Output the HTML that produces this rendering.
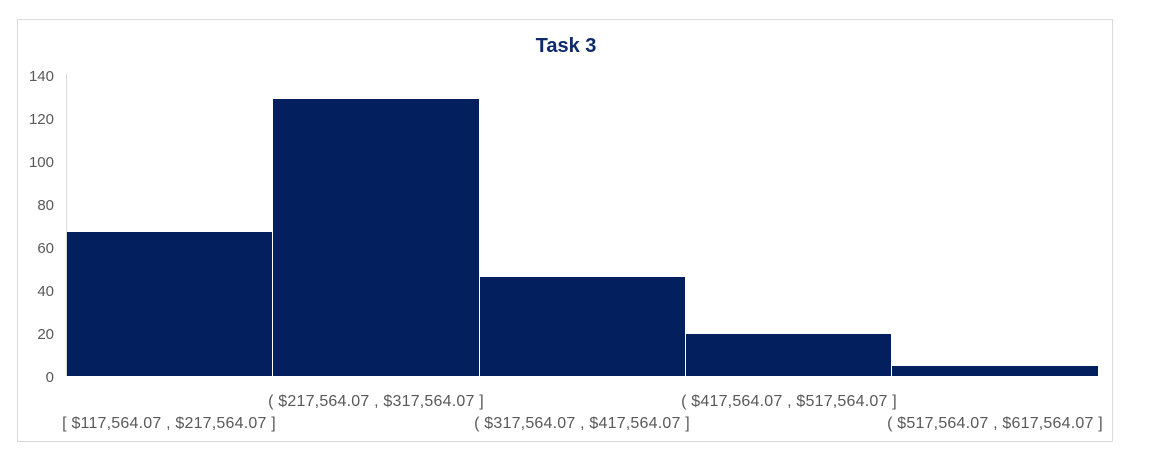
<!DOCTYPE html>
<html><head><meta charset="utf-8"><style>
html,body{margin:0;padding:0;background:#fff;}
svg{display:block;font-family:"Liberation Sans",Arial,sans-serif;}
</style></head><body>
<svg width="1170" height="472" viewBox="0 0 1170 472">
<rect x="17.5" y="19.5" width="1095" height="422" fill="#fff" stroke="#d9d9d9" stroke-width="1"/>
<text x="566" y="52" text-anchor="middle" font-size="20" font-weight="bold" fill="#0d2a6b">Task 3</text>
<g font-size="15" fill="#595959" text-anchor="end">
<text x="54" y="81">140</text>
<text x="54" y="124">120</text>
<text x="54" y="167">100</text>
<text x="54" y="210">80</text>
<text x="54" y="253">60</text>
<text x="54" y="296">40</text>
<text x="54" y="339">20</text>
<text x="54" y="382">0</text>
</g>
<line x1="66.5" y1="74" x2="66.5" y2="376" stroke="#d9d9d9"/>
<g fill="#031f5e">
<rect x="67" y="232" width="205" height="144"/>
<rect x="273" y="99" width="206" height="277"/>
<rect x="480" y="277" width="205" height="99"/>
<rect x="686" y="334" width="205" height="42"/>
<rect x="892" y="366" width="206" height="10"/>
</g>
<g font-size="16" fill="#595959" text-anchor="middle" letter-spacing="0.2">
<text x="169" y="428">[ $117,564.07 ,  $217,564.07 ]</text>
<text x="376" y="406">( $217,564.07 ,  $317,564.07 ]</text>
<text x="582" y="428">( $317,564.07 ,  $417,564.07 ]</text>
<text x="789" y="406">( $417,564.07 ,  $517,564.07 ]</text>
<text x="995" y="428">( $517,564.07 ,  $617,564.07 ]</text>
</g>
</svg>
</body></html>
